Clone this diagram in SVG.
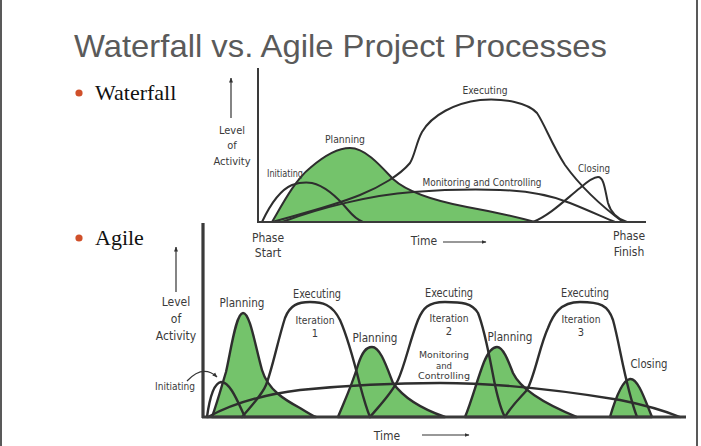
<svg xmlns="http://www.w3.org/2000/svg" width="701" height="446" viewBox="0 0 701 446">
<defs>
<marker id="ah" viewBox="0 0 10 10" refX="9" refY="5" markerWidth="5" markerHeight="5" orient="auto" markerUnits="userSpaceOnUse">
<path d="M0,1 L10,5 L0,9 Z" fill="#333"/>
</marker>
</defs>
<style>
.bg{fill:#ffffff}
.title{font-family:"Liberation Sans","Arial",sans-serif;font-size:32px;fill:#5a5a5a}
.bul{font-family:"Liberation Serif","Times New Roman",serif;font-size:22px;fill:#111}
.dot{fill:#d0502a}
.lbl{font-family:"Liberation Sans Narrow","DejaVu Sans Condensed","Liberation Sans",sans-serif;fill:#3a3a3a;text-anchor:middle}
.s9{font-size:9.5px}
.s10{font-size:10px}
.s11{font-size:11px}
.s12{font-size:12px}
.crv{fill:none;stroke:#2e2e2e;stroke-width:2;stroke-linejoin:round;stroke-linecap:round}
.crv2{fill:none;stroke:#2e2e2e;stroke-width:2.4;stroke-linejoin:round;stroke-linecap:round}
.grn{fill:#74c36b;stroke:#2e2e2e;stroke-width:2;stroke-linejoin:round}
.grn2{fill:#74c36b;stroke:#2e2e2e;stroke-width:2.4;stroke-linejoin:round}
.axis{stroke:#3a3a3a;stroke-width:2;fill:none}
.axis2{stroke:#3a3a3a;stroke-width:3.2;fill:none}
.arr{stroke:#333;stroke-width:1.2;fill:none}
.frame{stroke:#222;stroke-width:1.5}
</style>
<rect class="bg" x="0" y="0" width="701" height="446"/>
<line class="frame" x1="1" y1="0" x2="1" y2="446"/>
<line class="frame" x1="697" y1="0" x2="697" y2="446"/>

<g id="title">
<text class="title" x="74" y="57" textLength="533" lengthAdjust="spacingAndGlyphs">Waterfall vs. Agile Project Processes</text>
</g>

<g id="bullets">
<circle class="dot" cx="79" cy="93" r="3.6"/>
<text class="bul" x="95" y="100">Waterfall</text>
<circle class="dot" cx="79" cy="238" r="3.6"/>
<text class="bul" x="95" y="245">Agile</text>
</g>

<g id="waterfall">
<path class="grn" d="M272,222 C282,205 295,180 310,168 C325,155 338,148 350,148 C365,148 380,165 393,179 C405,190 430,200 467,207 C495,212 520,218 535,222 Z"/>
<path class="crv" d="M262,222 C270,205 280,190 292,185 C298,183 305,182 312,183 C325,186 338,198 348,210 C353,216 358,220 363,222"/>
<path class="crv" d="M272,222 C300,214 330,207 360,195 C380,187 400,175 410,163 C415,155 416,143 422,132 C432,115 455,103 480,100 C505,98 528,103 537,113 C545,125 552,145 565,165 C578,183 600,205 623,222"/>
<path class="crv" d="M282,222 C320,208 370,195 413,192 C440,190 470,189 500,190 C530,191 550,195 570,203 C590,211 605,218 615,222"/>
<path class="crv" d="M533,222 C550,215 565,200 580,188 C588,181 594,177 598,177 C604,177 605,190 608,203 C611,213 617,219 627,222"/>
<line class="axis" x1="258" y1="68" x2="258" y2="222"/>
<line class="axis" x1="257" y1="222" x2="646" y2="222"/>
<line class="arr" x1="231" y1="118" x2="231" y2="78" marker-end="url(#ah)"/>
<text class="lbl s11" x="232" y="134">Level</text>
<text class="lbl s11" x="232" y="149">of</text>
<text class="lbl s11" x="232" y="165">Activity</text>
<text class="lbl s10" x="285" y="177" textLength="36" lengthAdjust="spacingAndGlyphs">Initiating</text>
<text class="lbl s10" x="345" y="143" textLength="40" lengthAdjust="spacingAndGlyphs">Planning</text>
<text class="lbl s10" x="485" y="94" textLength="45" lengthAdjust="spacingAndGlyphs">Executing</text>
<text class="lbl s10" x="482" y="186" textLength="119" lengthAdjust="spacingAndGlyphs">Monitoring and Controlling</text>
<text class="lbl s10" x="594" y="172" textLength="32" lengthAdjust="spacingAndGlyphs">Closing</text>
<text class="lbl s12" x="268" y="242">Phase</text>
<text class="lbl s12" x="268" y="257">Start</text>
<text class="lbl s12" x="424" y="245">Time</text>
<line class="arr" x1="443" y1="242" x2="486" y2="242" marker-end="url(#ah)"/>
<text class="lbl s12" x="629" y="240">Phase</text>
<text class="lbl s12" x="629" y="256">Finish</text>
</g>

<g id="agile">
<path class="grn2" d="M212,417 C218,400 222,385 226,372 C231,350 236,313 243,313 C250,313 255,345 262,370 C268,390 285,400 300,408 C308,413 313,416 316,417 Z"/>
<path class="grn2" d="M338,417 C345,400 352,385 358,365 C362,352 366,347 372,347 C380,347 386,365 393,383 C405,400 425,410 445,417 Z"/>
<path class="grn2" d="M465,417 C472,400 477,380 484,362 C489,350 493,347 497,347 C503,347 508,360 513,373 C520,388 540,402 577,417 Z"/>
<path class="grn2" d="M610,417 C615,400 622,380 630,379 C638,378 645,400 652,417 Z"/>
<path class="crv2" d="M207,417 C210,395 215,383 221,382 C230,382 237,400 245,417"/>
<path class="crv2" d="M242,417 C252,405 262,395 266,385 C272,370 278,340 285,318 C290,305 298,302 310,302 C322,302 332,304 340,320 C348,338 355,365 360,385 C364,400 367,410 370,417"/>
<path class="crv2" d="M370,417 C380,405 392,393 398,380 C405,365 410,340 418,320 C423,308 428,302 445,302 C462,302 472,303 478,313 C485,330 490,360 495,385 C499,403 502,412 505,417"/>
<path class="crv2" d="M505,417 C512,405 520,398 527,390 C535,375 540,345 548,328 C553,315 560,302 580,302 C600,302 608,305 613,320 C620,345 625,385 637,417"/>
<path class="crv2" d="M208,417 C230,405 260,395 300,390 C340,386 380,383 440,383 C500,383 560,390 620,400 C645,405 665,411 680,417"/>
<line class="axis2" x1="203" y1="223" x2="203" y2="418"/>
<line class="axis2" x1="202" y1="417" x2="686" y2="417"/>
<line class="arr" x1="176" y1="292" x2="176" y2="247" marker-end="url(#ah)"/>
<text class="lbl s12" x="176" y="306">Level</text>
<text class="lbl s12" x="176" y="323">of</text>
<text class="lbl s12" x="176" y="340">Activity</text>
<text class="lbl s10" x="175" y="390" textLength="40" lengthAdjust="spacingAndGlyphs">Initiating</text>
<path class="arr" d="M187,381 Q203,364 217,377" marker-end="url(#ah)"/>
<text class="lbl s12" x="242" y="307" textLength="45" lengthAdjust="spacingAndGlyphs">Planning</text>
<text class="lbl s12" x="317" y="298" textLength="48" lengthAdjust="spacingAndGlyphs">Executing</text>
<text class="lbl s11" x="315" y="324" textLength="39" lengthAdjust="spacingAndGlyphs">Iteration</text>
<text class="lbl s11" x="315" y="337">1</text>
<text class="lbl s12" x="375" y="342" textLength="45" lengthAdjust="spacingAndGlyphs">Planning</text>
<text class="lbl s12" x="449" y="297" textLength="48" lengthAdjust="spacingAndGlyphs">Executing</text>
<text class="lbl s11" x="449" y="322" textLength="39" lengthAdjust="spacingAndGlyphs">Iteration</text>
<text class="lbl s11" x="449" y="335">2</text>
<text class="lbl s12" x="510" y="341" textLength="45" lengthAdjust="spacingAndGlyphs">Planning</text>
<text class="lbl s9" x="444" y="358" textLength="50" lengthAdjust="spacingAndGlyphs">Monitoring</text>
<text class="lbl s9" x="444" y="368.5">and</text>
<text class="lbl s9" x="444" y="379" textLength="52" lengthAdjust="spacingAndGlyphs">Controlling</text>
<text class="lbl s12" x="585" y="297" textLength="48" lengthAdjust="spacingAndGlyphs">Executing</text>
<text class="lbl s11" x="581" y="323" textLength="39" lengthAdjust="spacingAndGlyphs">Iteration</text>
<text class="lbl s11" x="581" y="336">3</text>
<text class="lbl s12" x="649" y="368" textLength="37" lengthAdjust="spacingAndGlyphs">Closing</text>
<text class="lbl s12" x="387" y="440">Time</text>
<line class="arr" x1="422" y1="435" x2="469" y2="435" marker-end="url(#ah)"/>
</g>
</svg>
